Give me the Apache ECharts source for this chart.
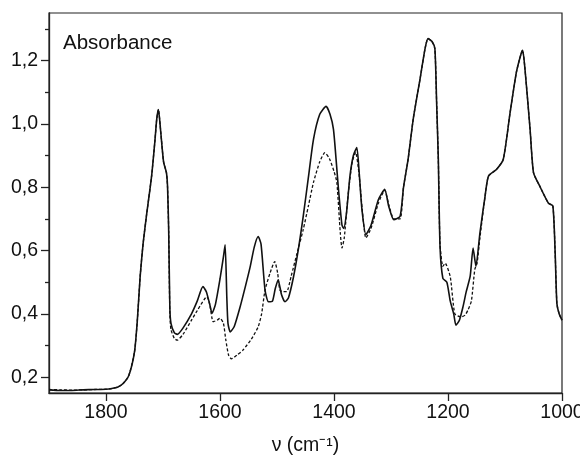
<!DOCTYPE html>
<html>
<head>
<meta charset="utf-8">
<script src="https://cdn.jsdelivr.net/npm/echarts@6/dist/echarts.min.js"></script>
<style>
html,body{margin:0;padding:0;background:#fff;}
#chart{width:580px;height:455px;}
</style>
</head>
<body>
<div id="chart"></div>
<script>
// Solid spectrum: wavenumbers (cm-1) and absorbance
var solidNu = [1900,1880,1860,1840,1820,1800,1790,1780,1770,1760,1750,1745,1740,1735,1729,1720,1714,1711,1708,1704,1699,1694,1692,1690,1688,1686,1680,1675,1665,1650,1640,1630,1624,1618,1614,1608,1600,1594,1591,1588,1586,1582,1575,1565,1555,1547,1540,1533,1528,1521,1515,1508,1503,1498,1492,1486,1480,1471,1462,1454,1445,1436,1425,1414,1407,1401,1396,1392,1386,1383,1378,1372,1366,1360,1356,1351,1344,1335,1322,1311,1304,1295,1284,1278,1270,1261,1249,1240,1235,1228,1223,1220,1217,1214,1209,1202,1196,1190,1186,1180,1174,1168,1161,1156,1151,1144,1135,1129,1115,1103,1091,1080,1072,1069,1065,1056,1050,1039,1024,1016,1012,1009,1005,1000];
var solidA  = [0.160,0.158,0.158,0.160,0.161,0.162,0.164,0.168,0.180,0.205,0.280,0.380,0.520,0.620,0.710,0.835,0.950,1.015,1.045,0.975,0.880,0.846,0.800,0.660,0.420,0.370,0.340,0.335,0.355,0.400,0.440,0.486,0.470,0.430,0.402,0.430,0.510,0.580,0.618,0.450,0.370,0.343,0.360,0.420,0.490,0.549,0.610,0.644,0.620,0.475,0.438,0.440,0.480,0.507,0.460,0.438,0.450,0.517,0.610,0.708,0.830,0.951,1.030,1.055,1.030,0.983,0.880,0.790,0.680,0.670,0.720,0.835,0.900,0.925,0.850,0.730,0.650,0.680,0.761,0.793,0.740,0.697,0.708,0.800,0.888,1.015,1.142,1.240,1.269,1.260,1.237,1.070,0.890,0.613,0.512,0.500,0.440,0.400,0.364,0.380,0.420,0.470,0.520,0.608,0.550,0.655,0.771,0.835,0.856,0.888,1.036,1.163,1.220,1.232,1.174,0.983,0.846,0.803,0.750,0.740,0.592,0.433,0.400,0.380];

// Dotted spectrum
var dashNu = [1900,1880,1860,1840,1820,1800,1790,1780,1770,1760,1750,1745,1740,1735,1729,1720,1714,1711,1708,1704,1699,1694,1692,1690,1688,1686,1680,1675,1665,1650,1640,1623,1618,1612,1605,1600,1594,1590,1585,1580,1570,1560,1545,1533,1527,1521,1512,1504,1499,1495,1489,1483,1475,1465,1454,1445,1436,1425,1416,1408,1400,1395,1389,1386,1382,1375,1368,1362,1356,1350,1344,1335,1322,1311,1304,1295,1284,1278,1270,1261,1249,1240,1235,1228,1223,1220,1217,1214,1209,1205,1196,1188,1177,1170,1165,1159,1153,1149,1144,1135,1129,1115,1103,1091,1080,1072,1069,1065,1056,1050,1039,1024,1016,1012,1009,1005,1000];
var dashA  = [0.161,0.160,0.159,0.160,0.161,0.162,0.164,0.168,0.180,0.205,0.280,0.380,0.520,0.620,0.710,0.835,0.950,1.015,1.045,0.975,0.880,0.846,0.800,0.660,0.400,0.350,0.322,0.317,0.335,0.380,0.410,0.454,0.430,0.375,0.380,0.386,0.370,0.320,0.270,0.258,0.270,0.285,0.320,0.359,0.400,0.475,0.530,0.565,0.530,0.475,0.470,0.470,0.520,0.590,0.666,0.740,0.815,0.880,0.909,0.890,0.850,0.815,0.656,0.608,0.640,0.780,0.880,0.910,0.840,0.720,0.640,0.670,0.750,0.790,0.745,0.700,0.700,0.800,0.888,1.015,1.142,1.240,1.269,1.260,1.237,1.070,0.890,0.620,0.550,0.560,0.517,0.400,0.390,0.396,0.412,0.440,0.540,0.560,0.640,0.771,0.835,0.856,0.888,1.036,1.163,1.220,1.232,1.174,0.983,0.846,0.803,0.750,0.740,0.592,0.433,0.400,0.380];

var xTickValues = [1000,1200,1400,1600,1800];
var yMajorValues = [0.2,0.4,0.6,0.8,1.0,1.2];
var yMinorValues = [0.3,0.5,0.7,0.9,1.1,1.3];
var yLabelText = {'0.2':'0,2','0.4':'0,4','0.6':'0,6','0.8':'0,8','1':'1,0','1.2':'1,2'};

function pairs(xs, ys){ return xs.map(function(x,i){ return [x, ys[i]]; }); }

var FONT = 'Liberation Sans, Arial, Helvetica, sans-serif';
var chart = echarts.init(document.getElementById('chart'), null, {renderer:'canvas'});
chart.setOption({
  animation:false,
  backgroundColor:'#fff',
  title:{text:'Absorbance', left:58, top:28, textStyle:{fontFamily:FONT, fontSize:20.5, fontWeight:'normal', color:'#111'}},
  grid:{left:49, right:18, top:13, bottom:62, show:true, borderColor:'#222', borderWidth:1.2, backgroundColor:'transparent', outerBoundsMode:'none', containLabel:false},
  xAxis:{
    type:'value', inverse:true, min:1000, max:1900,
    name:'ν (cm⁻¹)', nameLocation:'middle', nameGap:43,
    nameTextStyle:{fontFamily:FONT, fontSize:19.5, color:'#111'},
    axisLine:{show:true, lineStyle:{color:'#222', width:1.3}},
    axisTick:{show:true, inside:false, length:8, customValues:xTickValues, lineStyle:{color:'#222', width:1.3}},
    axisLabel:{customValues:xTickValues, margin:10, fontFamily:FONT, fontSize:19.5, color:'#111',
      formatter:function(v){ return String(Math.round(v)); }},
    splitLine:{show:false}
  },
  yAxis:[{
    type:'value', min:0.15, max:1.35,
    axisLine:{show:true, lineStyle:{color:'#222', width:1.3}},
    axisTick:{show:true, inside:false, length:8, customValues:yMajorValues, lineStyle:{color:'#222', width:1.3}},
    axisLabel:{customValues:yMajorValues, margin:11, fontFamily:FONT, fontSize:19.5, color:'#111',
      formatter:function(v){ var k = String(Math.round(v*10)/10); return yLabelText[k] || ''; }},
    splitLine:{show:false}
  },{
    type:'value', min:0.15, max:1.35, position:'left',
    axisLine:{show:false},
    axisTick:{show:true, inside:false, length:4, customValues:yMinorValues, lineStyle:{color:'#222', width:1.3}},
    axisLabel:{show:false},
    splitLine:{show:false}
  }],
  series:[{
    type:'line', name:'solid', data:pairs(solidNu, solidA), showSymbol:false, smooth:0.2,
    lineStyle:{color:'#111', width:1.6}, z:3
  },{
    type:'line', name:'dotted', data:pairs(dashNu, dashA), showSymbol:false, smooth:0.2,
    lineStyle:{color:'#111', width:1.3, type:[3,2]}, z:2
  }]
});
</script>
</body>
</html>
